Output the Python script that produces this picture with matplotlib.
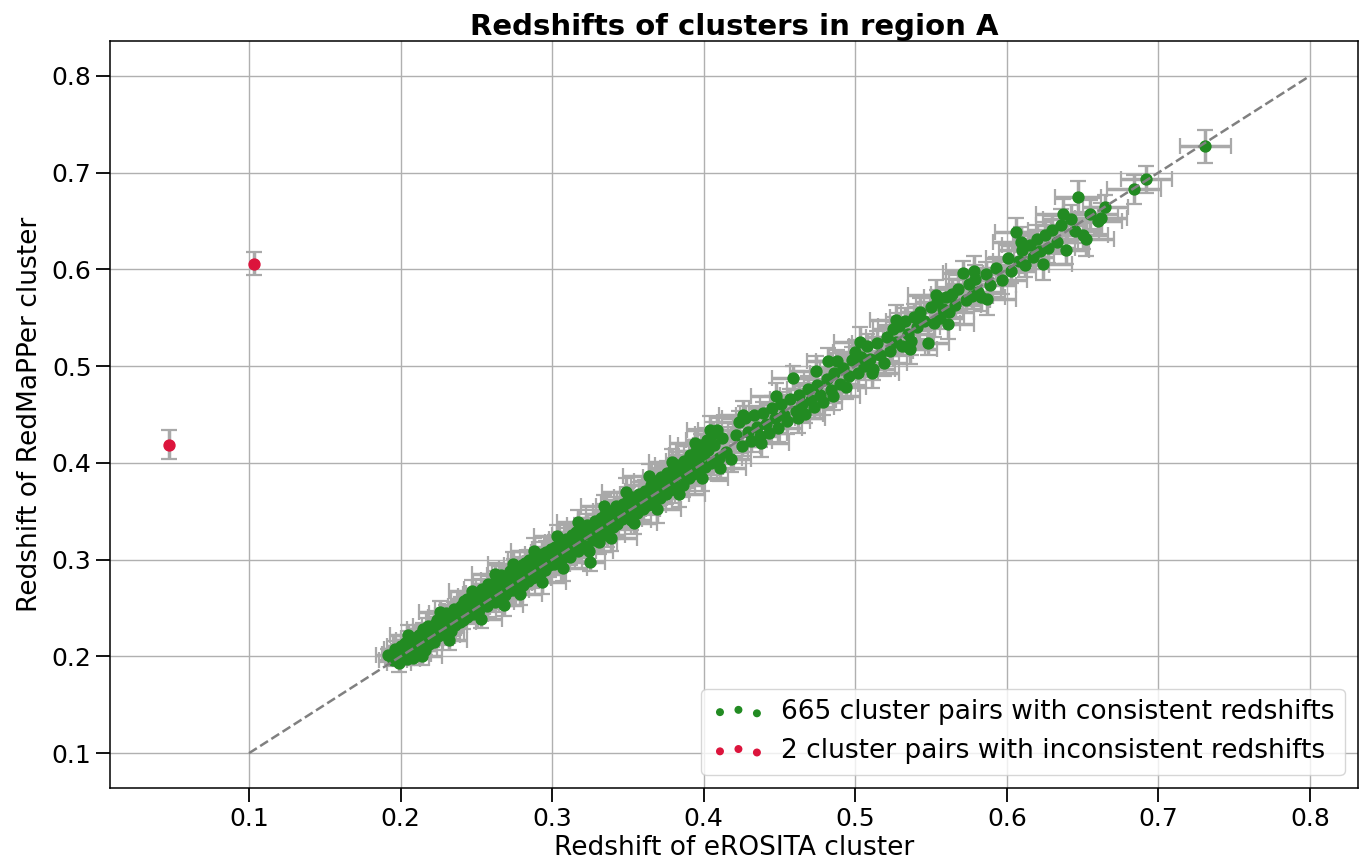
import numpy as np
import matplotlib.pyplot as plt

# eROSITA redshift vs redMaPPer redshift for matched pairs in region A
n_consistent = 665  # total matched pairs in the catalogue
z_ero = [
    0.192, 0.195, 0.196, 0.198, 0.199, 0.200, 0.201, 0.202, 0.203, 0.204,
    0.205, 0.205, 0.206, 0.207, 0.208, 0.209, 0.210, 0.210, 0.211, 0.212,
    0.213, 0.214, 0.215, 0.215, 0.216, 0.217, 0.218, 0.219, 0.220, 0.221,
    0.222, 0.222, 0.223, 0.224, 0.225, 0.226, 0.227, 0.228, 0.229, 0.230,
    0.230, 0.231, 0.232, 0.233, 0.234, 0.235, 0.236, 0.237, 0.238, 0.239,
    0.240, 0.240, 0.241, 0.242, 0.243, 0.244, 0.245, 0.246, 0.247, 0.248,
    0.249, 0.250, 0.236, 0.228, 0.219, 0.244, 0.213, 0.207, 0.233, 0.241,
    0.251, 0.252, 0.253, 0.254, 0.255, 0.256, 0.257, 0.258, 0.259, 0.260,
    0.261, 0.262, 0.263, 0.264, 0.265, 0.266, 0.267, 0.268, 0.269, 0.270,
    0.271, 0.272, 0.273, 0.274, 0.275, 0.276, 0.277, 0.278, 0.279, 0.280,
    0.281, 0.282, 0.283, 0.284, 0.285, 0.286, 0.287, 0.288, 0.289, 0.290,
    0.291, 0.292, 0.293, 0.294, 0.295, 0.296, 0.297, 0.298, 0.299, 0.300,
    0.301, 0.302, 0.304, 0.305, 0.306, 0.308, 0.309, 0.310, 0.311, 0.312,
    0.313, 0.314, 0.315, 0.316, 0.317, 0.318, 0.319, 0.320, 0.263, 0.287,
    0.321, 0.322, 0.323, 0.325, 0.326, 0.327, 0.328, 0.330, 0.331, 0.332,
    0.333, 0.335, 0.336, 0.337, 0.338, 0.340, 0.341, 0.342, 0.343, 0.345,
    0.346, 0.347, 0.348, 0.350, 0.351, 0.352, 0.353, 0.355, 0.356, 0.357,
    0.358, 0.360, 0.361, 0.362, 0.363, 0.365, 0.366, 0.367, 0.368, 0.370,
    0.371, 0.372, 0.373, 0.375, 0.376, 0.377, 0.378, 0.380, 0.381, 0.382,
    0.383, 0.385, 0.386, 0.387, 0.388, 0.390, 0.391, 0.392, 0.393, 0.395,
    0.396, 0.397, 0.398, 0.400, 0.401, 0.402, 0.403, 0.405, 0.406, 0.407,
    0.409, 0.410, 0.412, 0.415, 0.418,
    0.421, 0.423, 0.425, 0.427, 0.429, 0.431, 0.433, 0.435, 0.437, 0.439,
    0.441, 0.443, 0.445, 0.447, 0.449, 0.451, 0.453, 0.455, 0.457, 0.459,
    0.461, 0.463, 0.465, 0.467, 0.469, 0.471, 0.473, 0.475, 0.477, 0.479,
    0.481, 0.482, 0.484, 0.486, 0.488, 0.490, 0.492, 0.494, 0.496, 0.498,
    0.500, 0.502, 0.504, 0.506, 0.508, 0.510, 0.512, 0.514, 0.516, 0.519,
    0.521, 0.523, 0.525, 0.527, 0.529, 0.531, 0.533, 0.535, 0.537, 0.539,
    0.541, 0.543, 0.545, 0.548, 0.550, 0.552, 0.554, 0.556, 0.558, 0.560,
    0.562, 0.564, 0.566, 0.568, 0.571, 0.573, 0.575, 0.577, 0.579, 0.581,
    0.583, 0.586, 0.589, 0.593, 0.597,
    0.601, 0.603, 0.606, 0.608, 0.610, 0.612, 0.615, 0.617, 0.620, 0.622,
    0.625, 0.627, 0.630, 0.633, 0.636, 0.639, 0.642, 0.645, 0.647, 0.650,
    0.655, 0.660, 0.662, 0.665, 0.684, 0.692, 0.731,
    0.205, 0.214, 0.226, 0.232, 0.247, 0.253, 0.262, 0.268, 0.274, 0.279,
    0.288, 0.293, 0.303, 0.307, 0.317, 0.324, 0.334, 0.339, 0.349, 0.354,
    0.364, 0.369, 0.379, 0.384, 0.394, 0.399, 0.404, 0.411, 0.426, 0.438,
    0.448, 0.462, 0.474, 0.485, 0.503, 0.511, 0.527, 0.536, 0.553, 0.561,
    0.578, 0.587, 0.609, 0.624, 0.637, 0.652,
]
z_rm = [
    0.201, 0.196, 0.208, 0.202, 0.193, 0.211, 0.199, 0.206, 0.214, 0.197,
    0.212, 0.201, 0.217, 0.205, 0.198, 0.219, 0.209, 0.214, 0.203, 0.222,
    0.209, 0.224, 0.216, 0.228, 0.207, 0.221, 0.231, 0.213, 0.226, 0.219,
    0.232, 0.215, 0.227, 0.238, 0.221, 0.234, 0.225, 0.241, 0.230, 0.222,
    0.245, 0.236, 0.229, 0.243, 0.238, 0.249, 0.232, 0.247, 0.241, 0.236,
    0.252, 0.245, 0.238, 0.257, 0.249, 0.241, 0.256, 0.250, 0.262, 0.244,
    0.258, 0.251, 0.240, 0.233, 0.215, 0.259, 0.218, 0.211, 0.226, 0.247,
    0.264, 0.248, 0.259, 0.270, 0.255, 0.266, 0.252, 0.275, 0.262, 0.258,
    0.271, 0.256, 0.279, 0.266, 0.260, 0.284, 0.272, 0.281, 0.263, 0.277,
    0.268, 0.288, 0.276, 0.269, 0.291, 0.280, 0.273, 0.286, 0.279, 0.294,
    0.274, 0.297, 0.285, 0.278, 0.300, 0.290, 0.281, 0.296, 0.287, 0.303,
    0.293, 0.285, 0.306, 0.297, 0.289, 0.308, 0.300, 0.294, 0.311, 0.302,
    0.295, 0.313, 0.304, 0.318, 0.300, 0.312, 0.321, 0.307, 0.315, 0.303,
    0.325, 0.311, 0.318, 0.329, 0.309, 0.322, 0.331, 0.315, 0.266, 0.282,
    0.327, 0.314, 0.336, 0.298, 0.331, 0.320, 0.340, 0.326, 0.318, 0.343,
    0.332, 0.347, 0.325, 0.339, 0.350, 0.334, 0.344, 0.355, 0.337, 0.351,
    0.342, 0.358, 0.346, 0.362, 0.352, 0.341, 0.365, 0.355, 0.348, 0.368,
    0.361, 0.352, 0.371, 0.364, 0.356, 0.377, 0.368, 0.360, 0.381, 0.372,
    0.364, 0.385, 0.376, 0.368, 0.390, 0.381, 0.372, 0.394, 0.386, 0.375,
    0.398, 0.389, 0.377, 0.402, 0.393, 0.384, 0.408, 0.397, 0.389, 0.412,
    0.404, 0.392, 0.418, 0.409, 0.396, 0.424, 0.413, 0.400, 0.430, 0.419,
    0.434, 0.405, 0.426, 0.411, 0.404,
    0.429, 0.442, 0.417, 0.446, 0.432, 0.423, 0.449, 0.437, 0.428, 0.452,
    0.440, 0.431, 0.457, 0.446, 0.436, 0.461, 0.450, 0.443, 0.466, 0.488,
    0.454, 0.470, 0.461, 0.451, 0.476, 0.465, 0.458, 0.481, 0.470, 0.463,
    0.487, 0.505, 0.475, 0.493, 0.505, 0.482, 0.498, 0.478, 0.490, 0.506,
    0.515, 0.493, 0.509, 0.500, 0.521, 0.507, 0.497, 0.524, 0.512, 0.503,
    0.530, 0.516, 0.538, 0.525, 0.541, 0.521, 0.547, 0.533, 0.526, 0.551,
    0.540, 0.556, 0.547, 0.524, 0.561, 0.545, 0.566, 0.550, 0.559, 0.571,
    0.556, 0.575, 0.563, 0.580, 0.596, 0.568, 0.585, 0.572, 0.590, 0.577,
    0.571, 0.595, 0.584, 0.601, 0.589,
    0.612, 0.598, 0.639, 0.609, 0.620, 0.604, 0.625, 0.613, 0.631, 0.619,
    0.636, 0.622, 0.641, 0.628, 0.646, 0.620, 0.652, 0.640, 0.675, 0.635,
    0.657, 0.650, 0.653, 0.664, 0.683, 0.693, 0.727,
    0.222, 0.200, 0.246, 0.217, 0.268, 0.239, 0.285, 0.253, 0.296, 0.264,
    0.309, 0.277, 0.324, 0.291, 0.339, 0.309, 0.355, 0.322, 0.370, 0.338,
    0.386, 0.352, 0.401, 0.368, 0.421, 0.384, 0.434, 0.395, 0.450, 0.421,
    0.469, 0.446, 0.495, 0.469, 0.525, 0.493, 0.548, 0.518, 0.574, 0.544,
    0.598, 0.569, 0.628, 0.606, 0.657, 0.631,
]
# 1-sigma uncertainties, in units of 0.001
z_ero_err = np.array([
    8, 9, 7, 10, 8, 9, 11, 8, 7, 9, 10, 8, 9, 7, 11, 9, 8, 10, 9, 8,
    7, 10, 9, 11, 8, 9, 10, 8, 12, 9, 8, 10, 9, 7, 11, 8, 9, 10, 8, 9,
    11, 9, 8, 10, 9, 12, 8, 9, 10, 11, 9, 8, 10, 9, 11, 10, 8, 12, 9, 10,
    11, 9, 8, 10, 9, 11, 8, 10, 9, 12,
    10, 11, 9, 12, 10, 13, 11, 10, 12, 9, 11, 13, 10, 12, 11, 9, 13, 10, 12, 11,
    10, 12, 14, 11, 10, 13, 12, 11, 10, 12, 13, 11, 12, 10, 14, 11, 12, 13, 10, 11,
    12, 14, 11, 13, 12, 10, 13, 11, 12, 14, 11, 13, 12, 10, 14, 12, 11, 13, 12, 10,
    13, 12, 14, 11, 12, 13, 11, 14, 10, 12,
    12, 11, 13, 10, 14, 12, 11, 13, 12, 14, 11, 13, 12, 15, 11, 12, 14, 13, 12, 11,
    13, 15, 12, 14, 11, 13, 12, 14, 13, 12, 15, 11, 13, 14, 12, 13, 15, 12, 14, 11,
    13, 12, 14, 15, 12, 13, 11, 14, 13, 12, 15, 13, 14, 12, 13, 11, 14, 15, 12, 13,
    14, 12, 15, 13, 12, 14, 13, 15, 12, 14, 13, 15, 12, 14, 13,
    13, 14, 12, 15, 13, 14, 12, 16, 13, 15, 14, 12, 15, 13, 16, 14, 12, 15, 13, 14,
    16, 13, 15, 12, 14, 16, 13, 15, 14, 12, 15, 14, 13, 16, 14, 12, 15, 13, 16, 14,
    15, 13, 16, 14, 12, 15, 14, 16, 13, 15,
    14, 15, 13, 16, 14, 15, 13, 17, 14, 16, 15, 13, 16, 14, 15, 17, 14, 16, 13, 15,
    16, 14, 17, 15, 13, 16, 15, 14, 17, 15, 16, 14, 17, 15, 16,
    15, 16, 14, 17, 15, 16, 18, 14, 16, 17, 15, 18, 16, 14, 17, 15, 18, 16, 15, 17,
    18, 16, 17, 15, 18, 17, 17,
    12, 13, 14, 12, 15, 14, 15, 13, 16, 14, 15, 16, 15, 16, 14, 16, 15, 17, 16, 15,
    17, 16, 15, 17, 16, 17, 15, 17, 16, 18, 17, 18, 17, 18, 17, 18, 17, 18, 18, 17,
    18, 19, 18, 19, 18, 19,
]) / 1000
z_rm_err = np.array([
    7, 6, 8, 7, 9, 6, 7, 8, 7, 6, 8, 7, 9, 6, 7, 8, 7, 9, 8, 6,
    7, 8, 9, 7, 6, 8, 9, 7, 8, 9, 7, 8, 6, 9, 8, 7, 9, 8, 7, 10,
    8, 7, 9, 8, 10, 7, 8, 9, 8, 7, 9, 8, 10, 7, 9, 8, 10, 9, 8, 7,
    9, 10, 8, 9, 7, 8, 10, 9, 8, 9,
    8, 9, 7, 10, 8, 9, 11, 8, 10, 9, 8, 10, 9, 11, 8, 9, 10, 8, 11, 9,
    10, 8, 9, 11, 10, 9, 8, 10, 12, 9, 10, 11, 9, 8, 10, 12, 9, 11, 10, 9,
    11, 10, 12, 9, 10, 11, 9, 12, 10, 11, 9, 12, 10, 11, 10, 9, 12, 11, 10, 9,
    11, 10, 12, 9, 11, 10, 12, 11, 10, 11,
    10, 9, 11, 10, 12, 9, 11, 10, 12, 11, 9, 10, 12, 11, 10, 13, 11, 10, 12, 9,
    11, 12, 10, 13, 11, 10, 12, 11, 9, 12, 10, 13, 11, 12, 10, 11, 13, 12, 10, 11,
    12, 10, 13, 11, 12, 10, 13, 11, 12, 10, 13, 11, 12, 10, 11, 13, 12, 11, 10, 12,
    13, 11, 12, 10, 13, 12, 11, 13, 12, 10, 12, 13, 11, 12, 13,
    11, 12, 10, 13, 11, 12, 10, 13, 12, 11, 13, 10, 12, 11, 14, 12, 11, 13, 10, 12,
    11, 13, 12, 10, 14, 11, 13, 12, 11, 13, 12, 14, 11, 13, 12, 10, 13, 12, 11, 14,
    12, 13, 11, 14, 12, 13, 11, 12, 14, 13,
    12, 11, 13, 12, 14, 11, 13, 12, 14, 13, 12, 14, 11, 13, 12, 15, 13, 12, 14, 11,
    13, 15, 12, 14, 13, 12, 14, 13, 15, 12, 14, 13, 15, 12, 14,
    13, 12, 14, 13, 15, 12, 14, 13, 15, 14, 13, 15, 14, 12, 16, 14, 15, 13, 16, 14,
    15, 14, 16, 13, 15, 14, 17,
    10, 9, 11, 10, 11, 10, 12, 11, 12, 11, 13, 12, 12, 13, 12, 13, 12, 13, 14, 12,
    13, 14, 13, 14, 14, 13, 14, 14, 14, 15, 14, 15, 15, 14, 15, 16, 15, 16, 15, 16,
    16, 16, 16, 17, 16, 17,
]) / 1000

# pairs whose redshifts disagree
bad_ero = [0.047, 0.103]
bad_rm = [0.419, 0.606]
bad_rm_err = [0.015, 0.012]

fig = plt.figure(figsize=(13.62, 8.65), dpi=100)
ax = fig.add_axes([0.081, 0.089, 0.916, 0.8636])

err_kw = dict(fmt='none', ecolor='darkgray', elinewidth=2.5, capsize=5.5,
              capthick=1.6, zorder=2)
ax.errorbar(z_ero, z_rm, xerr=z_ero_err, yerr=z_rm_err, **err_kw)
ax.errorbar(bad_ero, bad_rm, yerr=bad_rm_err, **err_kw)

ax.scatter(z_ero, z_rm, s=62, color='forestgreen', zorder=3,
           label=f'{n_consistent} cluster pairs with consistent redshifts')
ax.scatter(bad_ero, bad_rm, s=62, color='crimson', zorder=3,
           label=f'{len(bad_ero)} cluster pairs with inconsistent redshifts')

ax.plot([0.1, 0.8], [0.1, 0.8], ls='--', color='gray', lw=1.8, zorder=4)

ax.set_xlim(0.0085, 0.8316)
ax.set_ylim(0.064, 0.836)
ax.set_xticks(np.arange(0.1, 0.81, 0.1))
ax.set_yticks(np.arange(0.1, 0.81, 0.1))
ax.grid(True, color='#b0b0b0', lw=1.0, zorder=0)
ax.set_axisbelow(True)
ax.tick_params(labelsize=18, length=10, width=1.3)
for sp in ax.spines.values():
    sp.set_linewidth(1.1)

ax.set_xlabel('Redshift of eROSITA cluster', fontsize=19, labelpad=3)
ax.set_ylabel('Redshift of RedMaPPer cluster', fontsize=19, labelpad=6)
ax.set_title('Redshifts of clusters in region A', fontsize=21,
             fontweight='bold', pad=4)
ax.legend(loc='lower right', fontsize=19, scatterpoints=3, markerscale=0.6,
          handletextpad=0.6, borderaxespad=0.5)

fig.savefig('out.png', dpi=100)
